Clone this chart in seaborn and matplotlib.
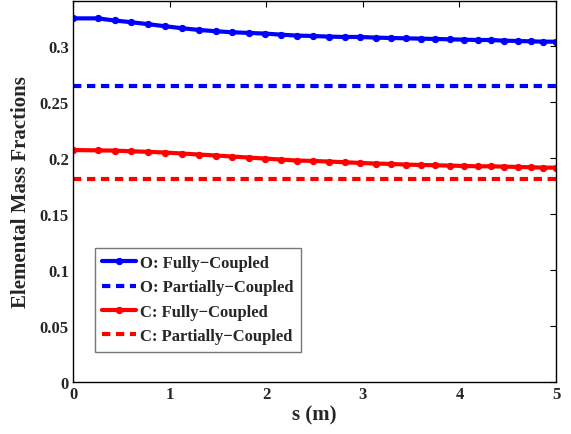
import numpy as np
import pandas as pd
import matplotlib
matplotlib.use("Agg")
import matplotlib.pyplot as plt
import seaborn as sns
from matplotlib.ticker import FuncFormatter

s = [0.0, 0.256, 0.43, 0.60, 0.78, 0.95, 1.13, 1.30, 1.48, 1.65, 1.82, 1.99, 2.15, 2.32,
     2.48, 2.65, 2.82, 2.97, 3.14, 3.29, 3.45, 3.60, 3.75, 3.90, 4.05, 4.19, 4.33, 4.46,
     4.61, 4.74, 4.87, 5.0]
o_full = [0.3245, 0.3245, 0.3226, 0.3211, 0.3193, 0.3175, 0.3157, 0.3142, 0.3130, 0.3121,
          0.3115, 0.3109, 0.3100, 0.3091, 0.3088, 0.3082, 0.3079, 0.3079, 0.3073, 0.3070,
          0.3067, 0.3064, 0.3061, 0.3058, 0.3055, 0.3052, 0.3052, 0.3046, 0.3043, 0.3040,
          0.3037, 0.3037]
c_full = [0.2070, 0.2067, 0.2065, 0.2059, 0.2054, 0.2048, 0.2039, 0.2030, 0.2021, 0.2012,
          0.2003, 0.1994, 0.1985, 0.1976, 0.1973, 0.1967, 0.1961, 0.1955, 0.1949, 0.1946,
          0.1940, 0.1937, 0.1934, 0.1931, 0.1928, 0.1925, 0.1925, 0.1922, 0.1919, 0.1916,
          0.1913, 0.1913]
o_partial_value = 0.2645
c_partial_value = 0.1810
labels = ["O: Fully\u2212Coupled", "O: Partially\u2212Coupled",
          "C: Fully\u2212Coupled", "C: Partially\u2212Coupled"]
yticks = [0, 0.05, 0.1, 0.15, 0.2, 0.25, 0.3]
xticks = [0, 1, 2, 3, 4, 5]

sns.set_theme(style="white")
plt.rcParams['font.family'] = ['Liberation Serif', 'DejaVu Serif']
plt.rcParams['font.weight'] = 'bold'

fig = plt.figure(figsize=(5.71, 4.35), dpi=100)
ax = fig.add_axes([73/571, 1-383/435, (556-73)/571, (383-2)/435])

series = [
    (labels[0], o_full, "#0000ff", "-", "o"),
    (labels[1], [o_partial_value] * len(s), "#0000ff", (0, (2.0, 1.35)), None),
    (labels[2], c_full, "#ff0000", "-", "o"),
    (labels[3], [c_partial_value] * len(s), "#ff0000", (0, (2.0, 1.35)), None),
]
for lab, yv, col, ls, mk in series:
    df = pd.DataFrame({"s": s, "y": yv})
    kw = dict(marker=mk, markersize=4.5, markeredgecolor=col, markerfacecolor=col) if mk else {}
    sns.lineplot(data=df, x="s", y="y", color=col, linestyle=ls, linewidth=3,
                 label=lab, ax=ax, **kw)

ax.set_xlim(0, 5)
ax.set_ylim(0, 0.34)
ax.set_xticks(xticks)
ax.set_yticks(yticks)
ax.yaxis.set_major_formatter(FuncFormatter(lambda v, p: f"{v:g}"))
ax.tick_params(direction="in", length=4, width=0.8, top=True, right=True,
               labelsize=12, pad=3, color="black")
for lab in ax.get_xticklabels() + ax.get_yticklabels():
    lab.set_fontweight("bold")
for sp in ax.spines.values():
    sp.set_color("black")
    sp.set_linewidth(1.0)

ax.set_xlabel("s (m)", fontsize=15, fontweight="bold", labelpad=2)
ax.set_ylabel("Elemental Mass Fractions", fontsize=15, fontweight="bold", labelpad=6)

leg = ax.legend(loc="lower left", bbox_to_anchor=(0.045, 0.08),
                prop={"weight": "bold", "size": 12.0},
                frameon=True, fancybox=False, edgecolor="#555555", handlelength=2.0,
                handletextpad=0.25, borderpad=0.45, labelspacing=0.5, borderaxespad=0)
leg.get_frame().set_linewidth(1.0)

fig.savefig("out.png", dpi=100)
